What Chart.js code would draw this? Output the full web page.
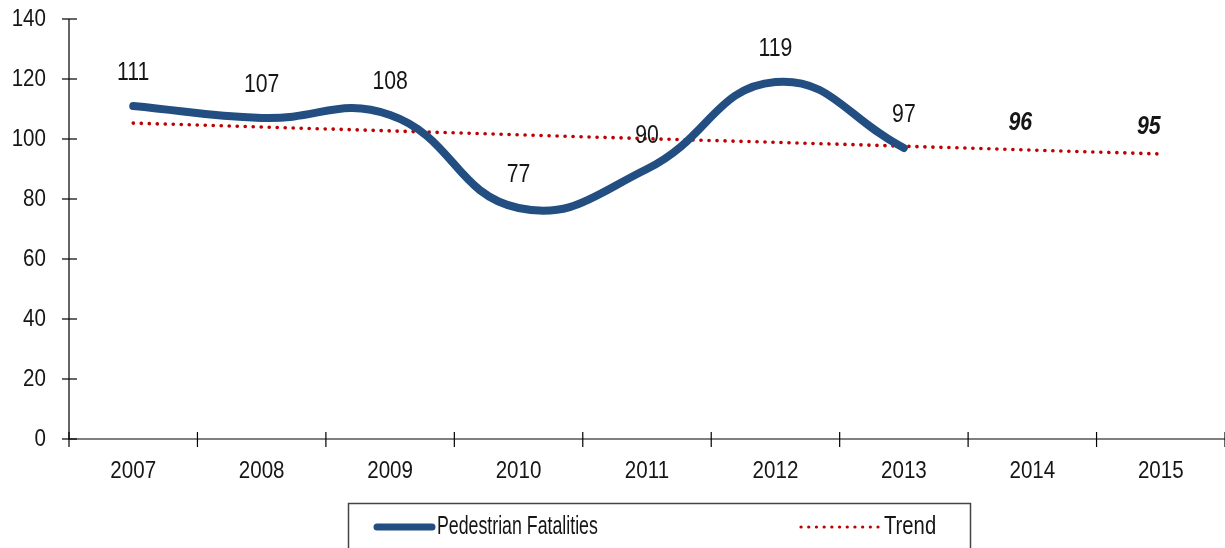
<!DOCTYPE html>
<html><head><meta charset="utf-8">
<script src="https://cdn.jsdelivr.net/npm/chart.js@4.4.0/dist/chart.umd.min.js"></script>
<style>html,body{margin:0;padding:0;background:#fff}#wrap{width:1225px;height:548px;position:relative}</style>
</head><body><div id="wrap"><canvas id="c" width="1225" height="548"></canvas></div>
<script>
const categories = ['2007','2008','2009','2010','2011','2012','2013','2014','2015'];
const fatalities = [111,107,108,77,90,119,97,null,null];
const trend = [105.3,104.0,102.7,101.4,100.1,98.9,97.6,96.3,95.0];
const trendLabels = [null,null,null,null,null,null,null,'96','95'];
const yTicks = [0,20,40,60,80,100,120,140];

const FONT = '"Liberation Sans",Arial,sans-serif';
const BLUE = '#234e81', RED = '#c00000', TXT = '#161616';

function narrow(ctx, text, x, y, align, font, sx){
  ctx.save();
  ctx.font = font; ctx.textBaseline = 'middle'; ctx.textAlign = align;
  ctx.translate(x, y); ctx.scale(sx, 1);
  ctx.fillText(text, 0, 0);
  ctx.restore();
}

const deco = {
  id:'deco',
  afterDraw(chart){
    const ctx = chart.ctx, xs = chart.scales.x, ys = chart.scales.y, a = chart.chartArea;
    ctx.save();
    ctx.fillStyle = TXT;
    ctx.strokeStyle = '#000'; ctx.lineWidth = 1.2;
    ctx.beginPath(); ctx.moveTo(a.left, a.top); ctx.lineTo(a.left, a.bottom); ctx.lineTo(a.right, a.bottom); ctx.stroke();
    yTicks.forEach(v => { const y = ys.getPixelForValue(v);
      ctx.beginPath(); ctx.moveTo(a.left-7, y); ctx.lineTo(a.left+8, y); ctx.stroke();
      narrow(ctx, String(v), 46, y + 0.5, 'right', '24.5px ' + FONT, 0.84);
    });
    for (let i=0;i<=categories.length;i++){
      const x = i===0 ? a.left : (i===categories.length ? a.right : (xs.getPixelForValue(i-1)+xs.getPixelForValue(i))/2);
      ctx.beginPath(); ctx.moveTo(x, a.bottom-7); ctx.lineTo(x, a.bottom+8); ctx.stroke();
    }
    categories.forEach((c,i)=> narrow(ctx, c, xs.getPixelForValue(i), 471.5, 'center', '24.5px ' + FONT, 0.84));
    fatalities.forEach((v,i)=>{ if(v==null) return;
      narrow(ctx, String(v), xs.getPixelForValue(i), ys.getPixelForValue(v)-33, 'center', '25px ' + FONT, 0.85); });
    trendLabels.forEach((t,i)=>{ if(t==null) return;
      narrow(ctx, t, xs.getPixelForValue(i)-12, ys.getPixelForValue(trend[i])-27, 'center', 'italic bold 26px ' + FONT, 0.82); });
    // legend
    ctx.strokeStyle = '#444'; ctx.lineWidth = 1.5;
    ctx.strokeRect(348.5, 503.5, 622, 60);
    ctx.lineCap='round';
    ctx.strokeStyle = BLUE; ctx.lineWidth = 7;
    ctx.beginPath(); ctx.moveTo(377, 527); ctx.lineTo(432, 527); ctx.stroke();
    ctx.strokeStyle = RED; ctx.lineWidth = 3.2; ctx.setLineDash([0.1, 7.6]);
    ctx.beginPath(); ctx.moveTo(801, 527); ctx.lineTo(878, 527); ctx.stroke();
    ctx.setLineDash([]);
    ctx.fillStyle = TXT;
    narrow(ctx, chart.data.datasets[0].label, 437, 527, 'left', '25px ' + FONT, 0.71);
    narrow(ctx, chart.data.datasets[1].label, 884, 527, 'left', '25px ' + FONT, 0.81);
    ctx.restore();
  }
};

new Chart(document.getElementById('c'), {
  type:'line',
  data:{ labels: categories, datasets:[
    { label:'Pedestrian Fatalities', data: fatalities, borderColor: BLUE, borderWidth: 8,
      tension: 0.45, pointRadius: 0, borderCapStyle:'round', spanGaps:false, order:1 },
    { label:'Trend', data: trend, borderColor: RED, borderWidth: 3.6, borderDash:[0.1,7.9],
      borderCapStyle:'round', tension:0, pointRadius:0, order:2 }
  ]},
  plugins:[deco],
  options:{
    responsive:false, animation:false,
    layout:{ padding:{ left:0, right:0, top:19, bottom:0 } },
    plugins:{ legend:{display:false}, tooltip:{enabled:false} },
    scales:{
      x:{ offset:true, grid:{display:false}, border:{display:false},
          ticks:{ display:false },
          afterFit(s){ s.height = 109; } },
      y:{ min:0, max:140, grid:{display:false}, border:{display:false},
          afterBuildTicks(s){ s.ticks = yTicks.map(v=>({value:v})); },
          ticks:{ display:false },
          afterFit(s){ s.width = 69; } }
    }
  }
});
</script></body></html>
